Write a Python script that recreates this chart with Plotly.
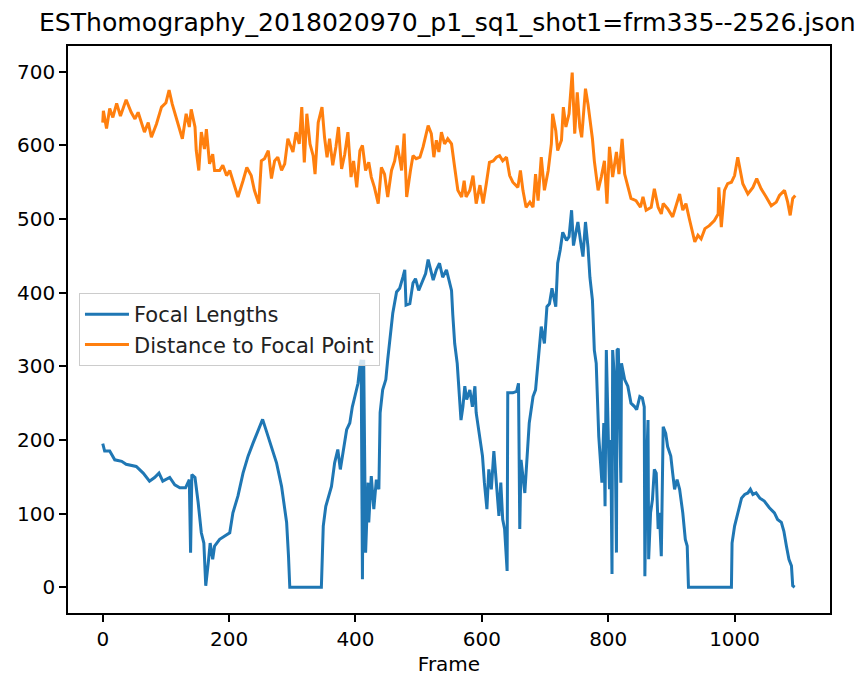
import plotly.graph_objects as go

TITLE = "ESThomography_2018020970_p1_sq1_shot1=frm335--2526.json"

focal_frames = [0, 3, 11, 19, 30, 37, 53, 64, 74, 82, 89, 95, 106, 114, 122, 131, 137, 139, 141, 146,
                151, 156, 160, 163, 167, 170, 174, 177, 185, 193, 201, 206, 214, 222, 230, 238, 246, 253,
                259, 267, 275, 283, 291, 294, 296, 346, 349, 353, 358, 362, 367, 372, 376, 380, 386, 391,
                395, 399, 404, 407, 409, 411, 413, 416, 420, 421, 425, 429, 433, 437, 439, 443, 448, 451,
                455, 459, 465, 470, 475, 478, 480, 486, 491, 495, 500, 507, 511, 515, 518, 523, 528, 533,
                538, 544, 548, 552, 554, 557, 561, 564, 567, 570, 573, 576, 581, 585, 589, 591, 597, 601,
                604, 608, 611, 615, 619, 623, 627, 630, 633, 636, 640, 641, 649, 655, 658, 660, 662, 668,
                671, 675, 678, 681, 685, 687, 691, 694, 699, 703, 707, 711, 717, 720, 724, 728, 734, 738,
                742, 745, 750, 752, 756, 760, 764, 768, 771, 775, 778, 781, 785, 788, 790, 793, 795, 797,
                800, 802, 804, 806, 807, 810, 813, 814, 816, 820, 821, 826, 831, 836, 842, 845, 850, 854,
                857, 858, 860, 863, 864, 867, 870, 873, 876, 879, 881, 884, 887, 891, 894, 899, 902, 905,
                909, 913, 918, 922, 925, 927, 995, 996, 1000, 1005, 1011, 1016, 1021, 1025, 1029, 1034,
                1040, 1047, 1055, 1063, 1068, 1074, 1078, 1082, 1086, 1090, 1092, 1095]
focal_values = [195, 185, 185, 173, 171, 167, 164, 155, 144, 149, 155, 144, 149, 139, 135, 135, 146, 47, 153, 149,
                115, 74, 60, 2, 33, 60, 38, 56, 65, 69, 74, 101, 124, 155, 178, 196, 214, 228,
                212, 191, 169, 137, 88, 42, 0, 0, 83, 110, 124, 137, 169, 187, 160, 182, 214, 223,
                245, 259, 277, 300, 309, 11, 309, 47, 142, 88, 151, 106, 146, 133, 237, 268, 282, 309,
                345, 372, 401, 406, 421, 431, 383, 385, 413, 419, 403, 417, 426, 445, 433, 417, 431, 440,
                421, 431, 417, 403, 370, 331, 304, 268, 227, 245, 273, 255, 268, 245, 273, 237, 205, 178,
                142, 106, 160, 133, 185, 142, 97, 142, 92, 79, 22, 264, 264, 266, 277, 79, 173, 128,
                169, 223, 241, 259, 268, 286, 318, 354, 331, 381, 385, 406, 381, 440, 458, 482, 471, 476,
                512, 464, 487, 496, 471, 449, 496, 462, 421, 390, 322, 304, 205, 173, 142, 223, 110, 322,
                182, 133, 200, 18, 322, 282, 47, 322, 324, 142, 304, 282, 273, 250, 245, 241, 259, 257,
                245, 15, 146, 227, 38, 101, 119, 160, 155, 79, 101, 42, 218, 209, 191, 178, 155, 133,
                146, 133, 101, 65, 56, 0, 0, 60, 83, 101, 121, 126, 128, 133, 126, 128,
                121, 117, 108, 101, 92, 88, 76, 56, 38, 29, 2, 0]

dist_frames = [0, 1, 6, 11, 16, 22, 28, 37, 45, 51, 56, 66, 72, 77, 85, 93, 100, 105, 110, 118, 126, 132,
               137, 140, 146, 148, 152, 156, 161, 164, 169, 174, 177, 185, 190, 196, 201, 206, 214, 222,
               228, 235, 240, 247, 251, 256, 262, 267, 272, 277, 283, 288, 293, 301, 306, 311, 315, 319,
               323, 328, 333, 336, 341, 347, 351, 355, 359, 364, 369, 373, 378, 383, 388, 393, 397, 402,
               407, 411, 416, 421, 425, 430, 436, 441, 446, 451, 457, 462, 466, 470, 473, 477, 481, 487,
               491, 496, 502, 507, 511, 515, 520, 524, 528, 532, 536, 541, 546, 552, 557, 562, 568, 572,
               575, 581, 586, 591, 597, 602, 607, 612, 618, 623, 628, 633, 639, 644, 649, 657, 661, 665,
               670, 676, 681, 685, 689, 694, 699, 705, 710, 712, 717, 720, 726, 729, 733, 738, 743, 747,
               751, 755, 758, 764, 768, 772, 775, 778, 784, 789, 794, 798, 802, 807, 813, 817, 822, 826,
               831, 836, 844, 851, 855, 860, 868, 873, 879, 884, 887, 894, 902, 908, 913, 918, 923, 929,
               934, 937, 942, 947, 953, 960, 968, 974, 975, 979, 984, 989, 995, 1000, 1005, 1008, 1013,
               1021, 1029, 1035, 1042, 1050, 1058, 1066, 1071, 1079, 1084, 1088, 1092, 1096]
dist_values = [631, 647, 623, 650, 638, 657, 640, 662, 645, 636, 645, 618, 631, 611, 629, 652, 658, 675, 656, 631, 609, 643,
               625, 649, 625, 593, 566, 618, 595, 622, 575, 588, 566, 566, 573, 559, 566, 552, 530, 552,
               570, 559, 539, 521, 579, 582, 593, 555, 579, 584, 566, 575, 609, 591, 618, 602, 652, 577,
               643, 602, 586, 561, 631, 652, 611, 584, 609, 573, 598, 625, 568, 588, 618, 557, 579, 543,
               593, 600, 566, 577, 557, 543, 521, 570, 561, 530, 566, 579, 600, 582, 566, 616, 530, 566,
               586, 582, 584, 598, 611, 627, 616, 584, 607, 591, 618, 602, 609, 602, 570, 539, 530, 552,
               530, 539, 559, 521, 546, 521, 548, 577, 579, 584, 586, 579, 584, 559, 550, 543, 566, 539,
               516, 523, 516, 561, 525, 584, 539, 566, 602, 643, 620, 593, 607, 652, 625, 643, 699, 616,
               672, 625, 611, 677, 656, 629, 609, 579, 539, 557, 579, 521, 598, 557, 591, 561, 609, 561,
               546, 528, 525, 516, 530, 512, 516, 541, 516, 507, 521, 514, 503, 521, 534, 512, 521, 498,
               482, 469, 478, 473, 487, 491, 498, 507, 543, 489, 539, 548, 550, 559, 584, 570, 548,
               534, 543, 555, 541, 530, 518, 523, 532, 539, 523, 505, 528, 532]

x_ticks = [0, 200, 400, 600, 800, 1000]
y_ticks = [0, 100, 200, 300, 400, 500, 600, 700]

FONT = "DejaVu Sans"

fig = go.Figure()
fig.add_trace(go.Scatter(x=focal_frames, y=focal_values, mode="lines", name="Focal Lengths",
                         line=dict(color="#1f77b4", width=3)))
fig.add_trace(go.Scatter(x=dist_frames, y=dist_values, mode="lines", name="Distance to Focal Point",
                         line=dict(color="#ff7f0e", width=3)))

axis_common = dict(showgrid=False, zeroline=False, showline=True, linecolor="black", linewidth=1.5,
                   mirror=True, ticks="outside", ticklen=7, tickwidth=1.5, tickcolor="black",
                   automargin=False,
                   tickfont=dict(family=FONT, size=20, color="black"))

# the page body adds an 8 px offset; the figure is sized to fit the window
fig.update_layout(
    width=859, height=668,
    margin=dict(l=60, r=37, t=38, b=63),
    paper_bgcolor="white", plot_bgcolor="white",
    font=dict(family=FONT, color="black"),
    xaxis=dict(range=[-55, 1151], tickvals=x_ticks,
               title=dict(text="Frame", font=dict(family=FONT, size=20, color="black"), standoff=12),
               **axis_common),
    yaxis=dict(range=[-35, 735], tickvals=y_ticks, **axis_common),
    legend=dict(x=0.0144, y=0.5644, xanchor="left", yanchor="top", itemwidth=44,
                bgcolor="rgba(255,255,255,0.8)", bordercolor="#cccccc", borderwidth=1,
                font=dict(family=FONT, size=21, color="#222222")),
    annotations=[dict(text=TITLE, x=0.5, y=1, xref="paper", yref="paper", xanchor="center",
                      yanchor="bottom", yshift=7, xshift=-2, showarrow=False,
                      font=dict(family=FONT, size=25.1, color="black"))],
)

fig.write_html("out.html")
